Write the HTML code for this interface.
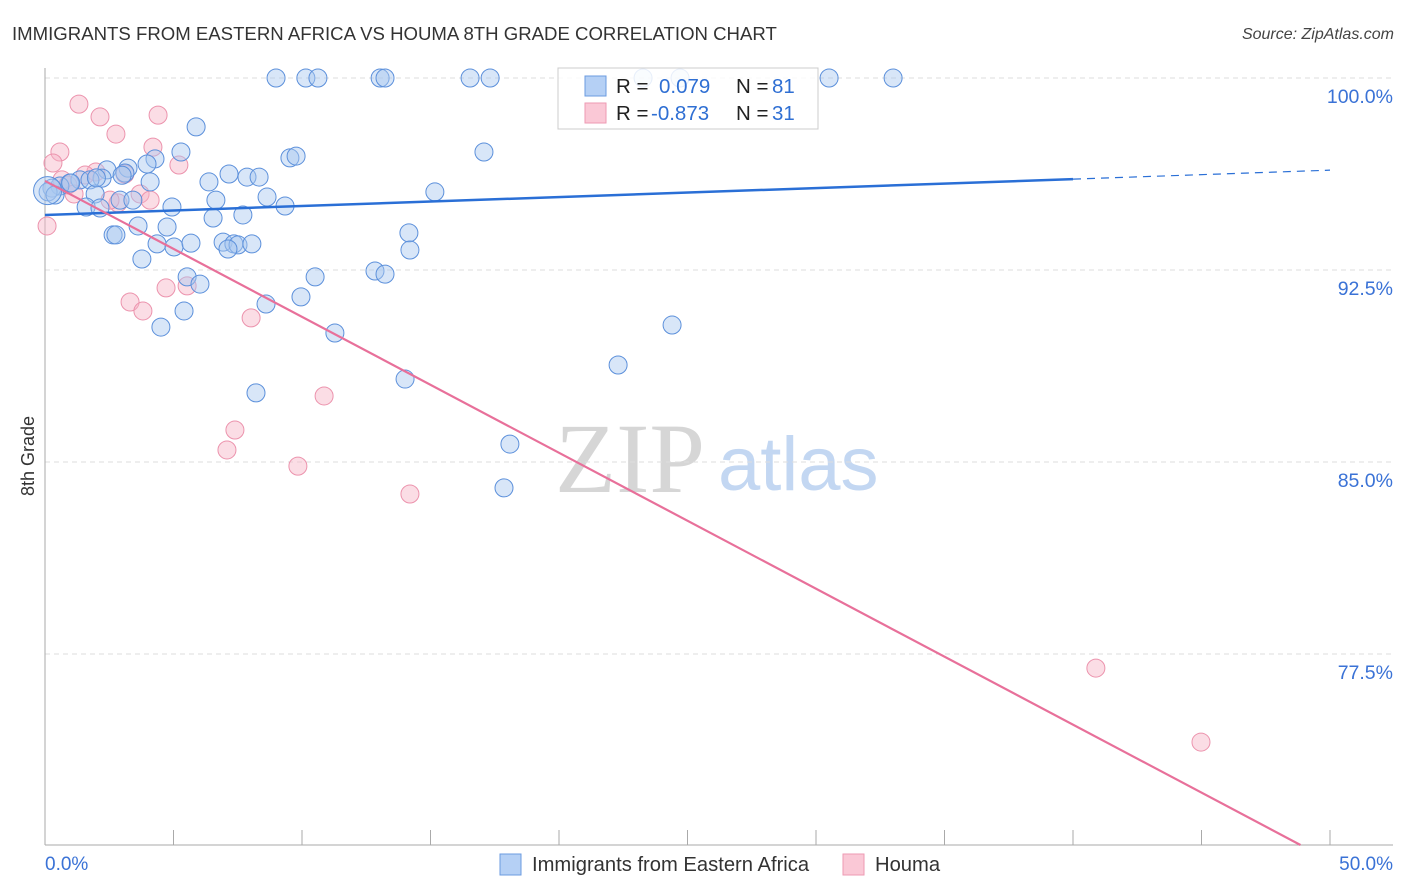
<!DOCTYPE html>
<html><head><meta charset="utf-8"><style>
body{margin:0;background:#fff;font-family:"Liberation Sans",sans-serif;}
#wrap{position:relative;width:1406px;height:892px;overflow:hidden;}
</style></head><body>
<div id="wrap">
<svg id="svg" width="1406" height="892" xmlns="http://www.w3.org/2000/svg">
<text x="12" y="40" font-size="18.6" fill="#333">IMMIGRANTS FROM EASTERN AFRICA VS HOUMA 8TH GRADE CORRELATION CHART</text>
<text x="1394" y="39" font-size="16" fill="#444" text-anchor="end" font-style="italic">Source: ZipAtlas.com</text>
<text x="34" y="456" font-size="18" fill="#333" text-anchor="middle" transform="rotate(-90 34 456)">8th Grade</text>
<g><text x="555" y="492" font-size="100" font-family="Liberation Serif,serif" fill="#d6d6d6">ZIP</text><text x="718" y="490" font-size="76" fill="#c3d7f2">atlas</text></g>
<g id="grid"></g><g id="marks"></g><g id="trend"></g>
<g>
<rect x="558" y="68" width="260" height="61" fill="#fff" fill-opacity="0.85" stroke="#ccc"/>
<rect x="585" y="76" width="21" height="20" fill="#b5d0f5" stroke="#6b9be0"/>
<rect x="585" y="103" width="21" height="20" fill="#fac8d6" stroke="#ee9ab3"/>
<text y="93" font-size="20.5" fill="#222"><tspan x="616">R =</tspan><tspan x="659" fill="#2f6fd3">0.079</tspan><tspan x="736">N =</tspan><tspan x="772" fill="#2f6fd3">81</tspan></text>
<text y="120" font-size="20.5" fill="#222"><tspan x="616">R =</tspan><tspan x="651" fill="#2f6fd3">-0.873</tspan><tspan x="736">N =</tspan><tspan x="772" fill="#2f6fd3">31</tspan></text>
</g>
<g>
<rect x="500" y="854" width="21" height="21" fill="#b5d0f5" stroke="#6b9be0"/>
<text x="532" y="871" font-size="20.2" fill="#333">Immigrants from Eastern Africa</text>
<rect x="843" y="854" width="21" height="21" fill="#fac8d6" stroke="#ee9ab3"/>
<text x="875" y="871" font-size="20.2" fill="#333">Houma</text>
</g>
</svg>
</div>
<script>
const blueX=[8.99,10.15,10.62,13.04,13.23,16.54,17.32,23.27,24.71,30.51,33.0,5.88,5.29,17.08,9.53,9.77,4.28,3.97,3.23,2.41,7.16,7.86,8.33,3.11,2.22,1.36,0.97,0.58,0.27,0.12,0.39,6.38,4.09,1.75,15.17,8.64,1.95,2.92,3.42,6.65,9.34,4.94,1.60,2.14,7.70,6.54,3.62,4.75,14.16,2.65,2.76,4.36,5.02,5.68,6.93,7.35,7.51,8.05,7.12,14.20,3.77,12.84,13.23,10.51,5.53,6.03,9.96,8.60,5.41,4.51,11.28,24.40,22.30,14.01,8.21,18.09,17.86,0.1,1.0,2.0,3.0];
const blueY=[100,100,100,100,100,100,100,100,100,100,100,98.09,97.11,97.11,96.88,96.95,96.84,96.64,96.48,96.41,96.25,96.13,96.13,96.29,96.09,96.02,95.90,95.78,95.70,95.55,95.43,95.94,95.94,96.02,95.55,95.35,95.47,95.23,95.23,95.23,95.0,94.96,94.96,94.92,94.65,94.53,94.22,94.18,93.95,93.87,93.87,93.52,93.40,93.55,93.59,93.52,93.48,93.52,93.32,93.28,92.93,92.46,92.34,92.23,92.23,91.95,91.45,91.17,90.90,90.27,90.04,90.35,88.79,88.24,87.70,85.70,83.99,95.6,95.9,96.1,96.2];
const pinkX=[1.32,2.14,4.40,2.76,4.20,0.58,0.31,5.21,1.98,3.11,1.56,0.66,0.89,1.13,3.70,2.84,0.08,3.31,3.81,4.71,5.53,8.02,10.86,7.39,7.08,9.84,14.20,40.89,44.98,4.09,2.53];
const pinkY=[98.98,98.48,98.55,97.81,97.30,97.11,96.68,96.60,96.33,96.25,96.21,96.02,95.82,95.47,95.47,95.12,94.22,91.25,90.90,91.80,91.88,90.63,87.58,86.25,85.47,84.84,83.75,76.95,74.06,95.23,95.23];
const blueTrend=[94.65,0.035];   // intercept, slope
const pinkTrend=[95.98,-0.531];
const yTicks=[100,92.5,85,77.5];
const yTickLabels=["100.0%","92.5%","85.0%","77.5%"];
const xTickLabels=["0.0%","50.0%"];

const NS="http://www.w3.org/2000/svg";
const sx=v=>45+v/50*1285;
const sy=v=>78+(100-v)/7.5*192;
function mk(tag,attrs,parent){const e=document.createElementNS(NS,tag);for(const k in attrs)e.setAttribute(k,attrs[k]);parent.appendChild(e);return e;}
const grid=document.getElementById('grid'),marks=document.getElementById('marks'),trend=document.getElementById('trend');
yTicks.forEach((t,i)=>{
  const l=mk('line',{x1:45,x2:1393,y1:sy(t),y2:sy(t),stroke:'#ddd','stroke-dasharray':'5,4'},grid);
  
  
  const tx=mk('text',{x:1393,y:sy(t)+25,'font-size':19.5,fill:'#3a72d6','text-anchor':'end'},grid);
  tx.textContent=yTickLabels[i];
  
  
});
const ax=mk('line',{x1:45,x2:45,y1:68,y2:845,stroke:'#aaa'},grid);


const bx=mk('line',{x1:45,x2:1393,y1:845,y2:845,stroke:'#aaa'},grid);


for(let i=0;i<=10;i++){
  const t=mk('line',{x1:sx(i*5),x2:sx(i*5),y1:830,y2:845,stroke:'#aaa'},grid);
  
  
}
[[0,'start',45],[50,'end',1393]].forEach((d,i)=>{
  const t=mk('text',{x:d[2],y:870,'font-size':19,fill:'#3a72d6','text-anchor':d[1]},grid);
  t.textContent=xTickLabels[i];
  
  
});
pinkX.forEach((x,i)=>{
  const c=mk('circle',{cx:sx(x),cy:sy(pinkY[i]),r:9,fill:'#f7b3c6','fill-opacity':0.45,stroke:'#ec93ad','stroke-width':1},marks);
  
  
});
blueX.forEach((x,i)=>{
  const c=mk('circle',{cx:sx(x),cy:sy(blueY[i]),r:i===77?14:9,fill:'#a9c8f0','fill-opacity':0.45,stroke:'#5c90db','stroke-width':1},marks);
  
  
});
const b1=mk('line',{x1:sx(0),y1:sy(blueTrend[0]),x2:sx(40),y2:sy(blueTrend[0]+blueTrend[1]*40),stroke:'#2a6fd6','stroke-width':2.5},trend);


const b2=mk('line',{x1:sx(40),y1:sy(blueTrend[0]+blueTrend[1]*40),x2:sx(50),y2:sy(blueTrend[0]+blueTrend[1]*50),stroke:'#2a6fd6','stroke-width':1.2,'stroke-dasharray':'8,6'},trend);


const xe=(70.04-pinkTrend[0])/pinkTrend[1];
const p1=mk('line',{x1:sx(0),y1:sy(pinkTrend[0]),x2:sx(xe),y2:sy(pinkTrend[0]+pinkTrend[1]*xe),stroke:'#e8709a','stroke-width':2.2},trend);


</script>
</body></html>
